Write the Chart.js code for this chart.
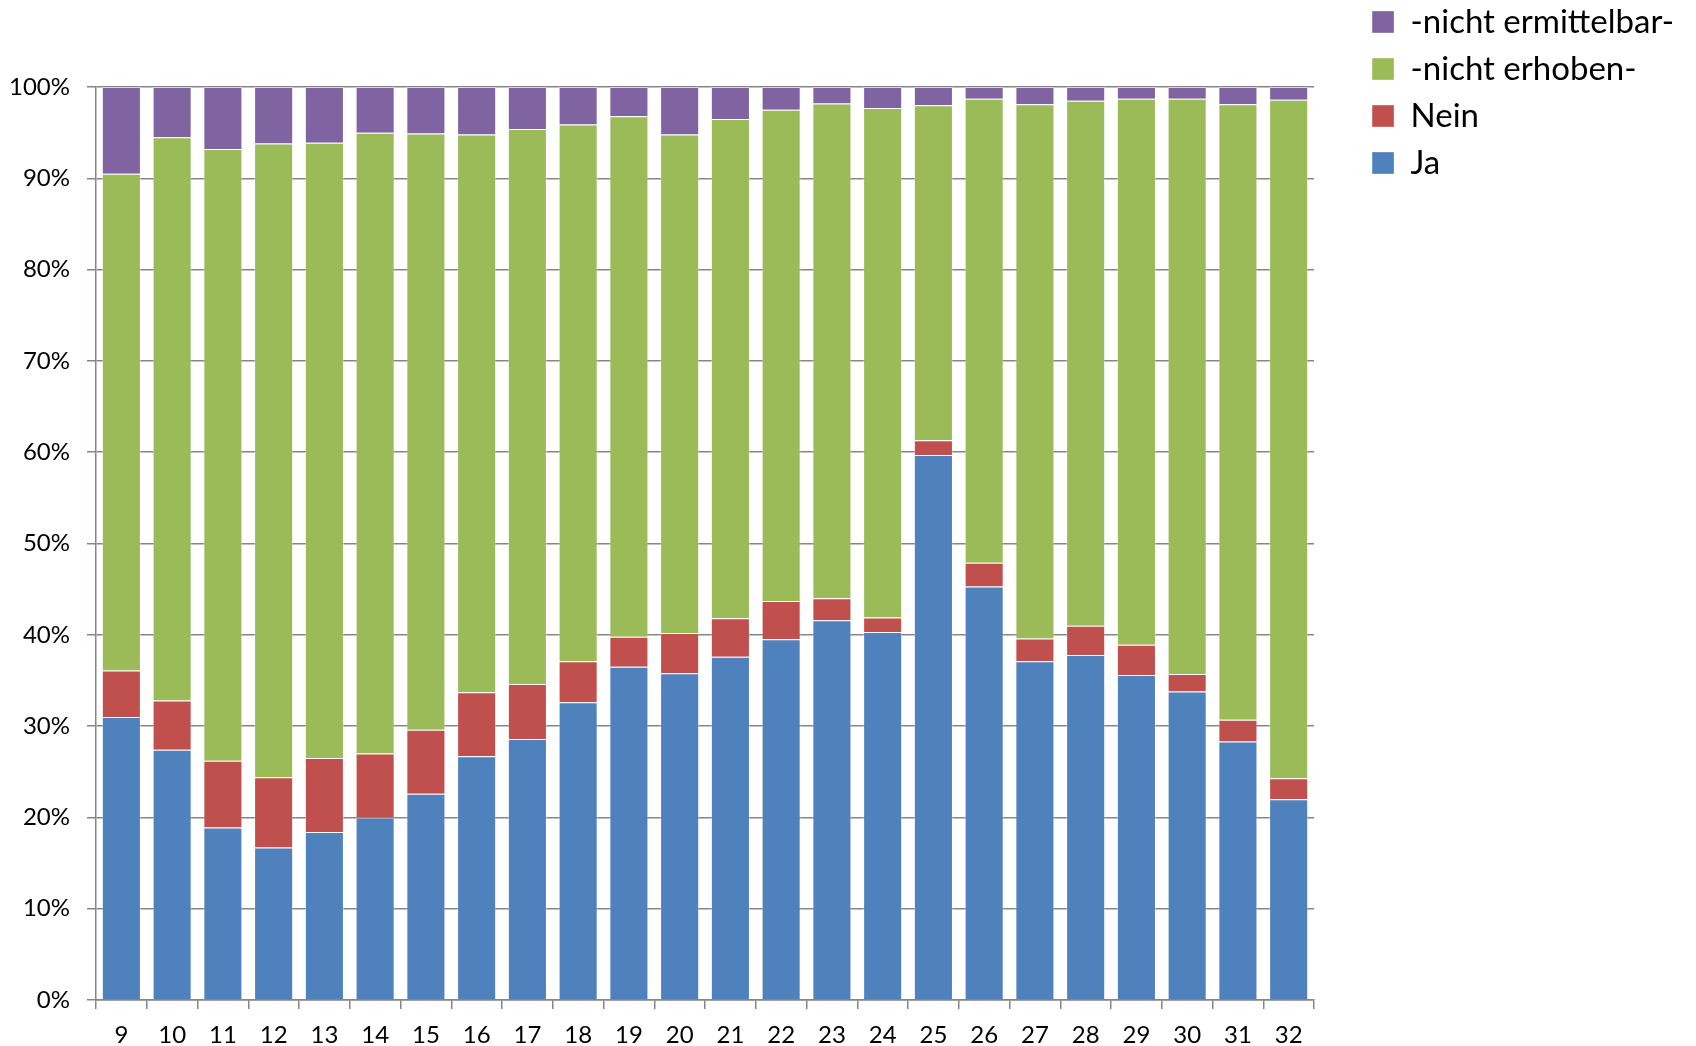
<!DOCTYPE html>
<html>
<head>
<meta charset="utf-8">
<script src="https://cdn.jsdelivr.net/npm/chart.js@4.4.1/dist/chart.umd.min.js"></script>
<style>
  html, body { margin: 0; padding: 0; background: #fff; }
  #wrap { width: 1696px; height: 1046px; position: relative; }
</style>
</head>
<body>
<div id="wrap"><canvas id="chart"></canvas></div>
<script>
// values (percent of each bar)
const categories = ['9', '10', '11', '12', '13', '14', '15', '16', '17', '18', '19', '20',
                    '21', '22', '23', '24', '25', '26', '27', '28', '29', '30', '31', '32'];
const ja = [31.0, 27.4, 18.9, 16.7, 18.4, 20.0, 22.6, 26.7, 28.6, 32.6, 36.5, 35.8,
            37.6, 39.5, 41.6, 40.3, 59.7, 45.3, 37.1, 37.8, 35.6, 33.8, 28.3, 22.0];
const nein = [5.1, 5.4, 7.3, 7.7, 8.1, 7.0, 7.0, 7.0, 6.0, 4.5, 3.3, 4.4,
              4.2, 4.2, 2.4, 1.6, 1.6, 2.6, 2.5, 3.2, 3.3, 1.9, 2.4, 2.3];
const nichtErhoben = [54.4, 61.7, 67.0, 69.4, 67.4, 68.0, 65.3, 61.1, 60.8, 58.8, 57.0, 54.6,
                      54.7, 53.8, 54.2, 55.8, 36.7, 50.8, 58.5, 57.5, 59.8, 63.0, 67.4, 74.3];
const nichtErmittelbar = [9.5, 5.5, 6.8, 6.2, 6.1, 5.0, 5.1, 5.2, 4.6, 4.1, 3.2, 5.2,
                          3.5, 2.5, 1.8, 2.3, 2.0, 1.3, 1.9, 1.5, 1.3, 1.3, 1.9, 1.4];
const yTicks = [0, 10, 20, 30, 40, 50, 60, 70, 80, 90, 100];

const gridColor = '#868686';
const fontFamily = 'Lato, "Open Sans", sans-serif';

new Chart(document.getElementById('chart'), {
    type: 'bar',
    data: {
        labels: categories,
        datasets: [
            { label: 'Ja', data: ja, backgroundColor: '#4F81BD' },
            { label: 'Nein', data: nein, backgroundColor: '#C0504D' },
            { label: '-nicht erhoben-', data: nichtErhoben, backgroundColor: '#9BBB59' },
            { label: '-nicht ermittelbar-', data: nichtErmittelbar, backgroundColor: '#8064A2' }
        ].map(d => Object.assign(d, {
            borderWidth: 1,
            borderColor: 'rgba(255,255,255,0.35)',
            barPercentage: 0.77,
            categoryPercentage: 1
        }))
    },
    options: {
        responsive: true,
        maintainAspectRatio: false,
        animation: false,
        layout: { padding: { top: -8.5, right: 12, bottom: 0, left: 0 } },
        plugins: {
            // blank title, only a top spacer (not full width, so the legend keeps the top corner)
            title: {
                display: true,
                text: ' ',
                fullSize: false,
                font: { size: 10, lineHeight: 1 },
                padding: { top: 0, bottom: 85.5 }
            },
            legend: {
                position: 'right',
                align: 'start',
                reverse: true,
                labels: {
                    boxWidth: 22,
                    boxHeight: 22,
                    padding: 14,
                    color: '#000',
                    font: { family: fontFamily, size: 33 }
                }
            },
            tooltip: { enabled: false }
        },
        scales: {
            x: {
                stacked: true,
                grid: { display: true, drawOnChartArea: false, drawTicks: true, tickLength: 9, color: gridColor, lineWidth: 1.5, offset: true },
                border: { display: true, color: gridColor, width: 1.5 },
                ticks: { color: '#000', padding: 12, font: { family: fontFamily, size: 24 }, maxRotation: 0 },
                afterFit: s => { s.height = 46; }
            },
            y: {
                stacked: true,
                min: 0,
                max: 100,
                afterBuildTicks: s => { s.ticks = yTicks.map(v => ({ value: v })); },
                grid: { color: gridColor, lineWidth: 1.5, tickLength: 9 },
                border: { display: true, color: gridColor, width: 1.5 },
                ticks: { color: '#000', padding: 17, font: { family: fontFamily, size: 24 }, callback: v => v + '%' },
                afterFit: s => { s.width = 96; }
            },
            // hidden axis that only keeps a gap between the plot and the legend
            gap: {
                position: 'right',
                display: false,
                afterFit: s => { s.width = 44; }
            }
        }
    }
});
</script>
</body>
</html>
